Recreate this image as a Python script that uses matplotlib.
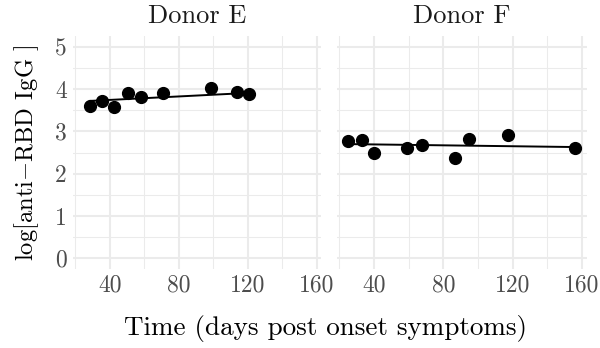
import numpy as np
import matplotlib
matplotlib.use("Agg")
import matplotlib.pyplot as plt
from matplotlib.ticker import MultipleLocator

plt.rcParams['font.family'] = 'cmr10'
plt.rcParams['mathtext.fontset'] = 'cm'
plt.rcParams['axes.unicode_minus'] = False
plt.rcParams['axes.formatter.use_mathtext'] = True

# Donor E
dayE = [28.4, 35.7, 42.5, 50.6, 58.0, 70.8, 99.0, 113.9, 120.9]
iggE = [3.61, 3.72, 3.57, 3.90, 3.81, 3.90, 4.03, 3.92, 3.88]
# Donor F
dayF = [25.0, 32.9, 39.8, 58.8, 67.9, 86.7, 95.0, 117.1, 156.2]
iggF = [2.77, 2.79, 2.48, 2.60, 2.69, 2.38, 2.83, 2.91, 2.61]

# fitted trend lines (end points)
fit_dayE = [28.4, 120.9]
fit_iggE = [3.72, 3.91]
fit_dayF = [25.0, 156.2]
fit_iggF = [2.70, 2.63]

panels = ["Donor E", "Donor F"]
xticks = [40, 80, 120, 160]
yticks = [0, 1, 2, 3, 4, 5]

W, H = 600, 348
fig = plt.figure(figsize=(6, 3.48), dpi=100)

def px_axes(x0, x1, y0, y1):
    # y0 = top pixel, y1 = bottom pixel
    return fig.add_axes([x0/W, (H - y1)/H, (x1 - x0)/W, (y1 - y0)/H])

axL = px_axes(72.5, 321.5, 36.2, 268.9)
axR = px_axes(336.7, 586.7, 36.2, 268.9)

grey_grid = '#EBEBEB'
setup = [(axL, dayE, iggE, fit_dayE, fit_iggE, panels[0]),
         (axR, dayF, iggF, fit_dayF, fit_iggF, panels[1])]
for ax, days, vals, fx, fy, name in setup:
    ax.set_xlim(18.4, 162.8)
    ax.set_ylim(-0.25, 5.25)
    ax.set_xticks(xticks)
    ax.set_yticks(yticks)
    ax.xaxis.set_minor_locator(MultipleLocator(20))
    ax.yaxis.set_minor_locator(MultipleLocator(0.5))
    ax.grid(which='major', color=grey_grid, lw=1.5)
    ax.grid(which='minor', color=grey_grid, lw=0.75)
    ax.set_axisbelow(True)
    for s in ax.spines.values():
        s.set_visible(False)
    ax.tick_params(which='both', length=0, labelsize=17, labelcolor='#4D4D4D', pad=4)
    ax.set_xticklabels([str(t) for t in xticks])

    ax.plot(fx, fy, color='black', lw=1.4, zorder=2)
    ax.plot(days, vals, 'o', color='black', ms=8.5, zorder=3)
    pos = ax.get_position()
    fig.text((pos.x0 + pos.x1)/2, 1 - 16/H, name, fontsize=19, color='#1A1A1A',
             ha='center', va='center')

axL.set_yticklabels([str(t) for t in yticks])
axR.set_yticklabels([])
axL.set_ylabel("log[anti$-$RBD IgG ]", fontsize=17.7, labelpad=10)
fig.text(325/W, 1 - 328/H, "Time (days post onset symptoms)", fontsize=19.5,
         ha='center', va='center')

fig.savefig("out.png", dpi=100)
